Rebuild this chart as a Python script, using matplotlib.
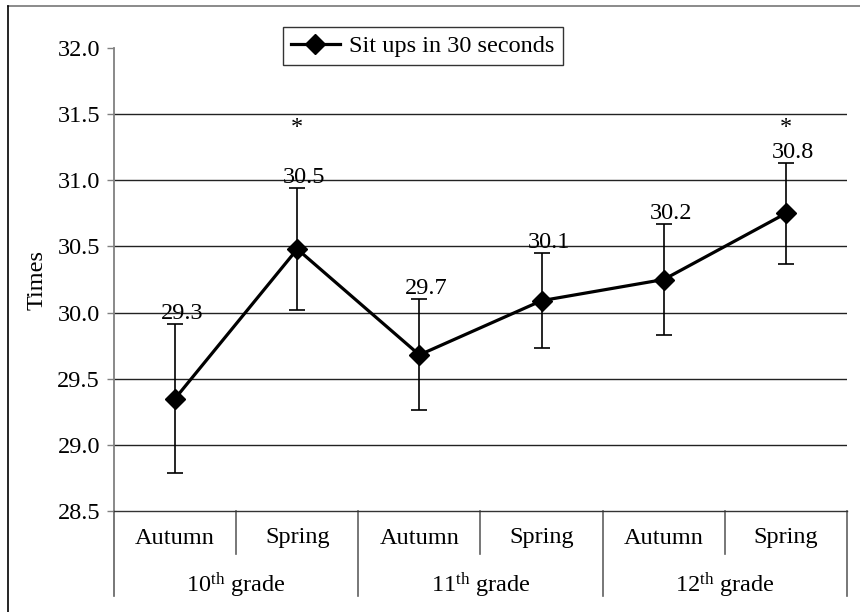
import matplotlib
matplotlib.use("Agg")
import matplotlib.pyplot as plt
import matplotlib.transforms as mtransforms
from matplotlib.lines import Line2D

plt.rcParams["font.family"] = ["Liberation Serif", "DejaVu Serif"]
plt.rcParams["mathtext.fontset"] = "custom"
plt.rcParams["mathtext.rm"] = "Liberation Serif"
plt.rcParams["mathtext.it"] = "Liberation Serif:italic"

# data
seasons = ["Autumn", "Spring", "Autumn", "Spring", "Autumn", "Spring"]
grades = [r"10$^{\mathrm{th}}$ grade", r"11$^{\mathrm{th}}$ grade", r"12$^{\mathrm{th}}$ grade"]
means = [29.35, 30.48, 29.68, 30.09, 30.25, 30.75]
sds = [0.56, 0.46, 0.42, 0.36, 0.42, 0.38]
value_labels = ["29.3", "30.5", "29.7", "30.1", "30.2", "30.8"]
stars = ["", "*", "", "", "", "*"]
star_level = 31.40
series_name = "Sit ups in 30 seconds"

FS = 17.5
W, H = 860, 612
fig = plt.figure(figsize=(W / 100, H / 100), dpi=100)

# outer frame (only top and left visible)
fig.add_artist(Line2D([8 / W, 1], [1 - 6 / H, 1 - 6 / H], color="#777777", lw=1.2, transform=fig.transFigure))
fig.add_artist(Line2D([8 / W, 8 / W], [0, 1 - 6 / H], color="black", lw=1.2, transform=fig.transFigure))

left, right, top, bottom = 114, 847, 48, 511
ax = fig.add_axes([left / W, 1 - bottom / H, (right - left) / W, (bottom - top) / H])

x = list(range(len(means)))
ax.errorbar(x, means, yerr=sds, fmt="none", ecolor="black", elinewidth=1.2,
            capsize=6, capthick=1.2, zorder=3)
line, = ax.plot(x, means, color="black", lw=2.3, marker="D", markersize=10,
                markerfacecolor="black", zorder=4)

for i in x:
    ax.annotate(value_labels[i], (i, means[i] + sds[i]), xytext=(5, 0),
                textcoords="offset points", ha="center", va="bottom", fontsize=FS)
    if stars[i]:
        ax.text(i, star_level, stars[i], ha="center", va="center", fontsize=FS)

ax.set_xlim(-0.5, len(means) - 0.5)
ax.set_ylim(28.5, 32.0)
ax.set_yticks([28.5 + 0.5 * k for k in range(8)])
ax.set_yticklabels(["%.1f" % (28.5 + 0.5 * k) for k in range(8)], fontsize=FS)
ax.tick_params(axis="y", length=5, width=1, color="#808080", pad=5)
ax.set_xticks([])
for yv in [29.0, 29.5, 30.0, 30.5, 31.0, 31.5]:
    ax.axhline(yv, color="#222222", lw=1.0, zorder=1)

for s in ["top", "right"]:
    ax.spines[s].set_visible(False)
ax.spines["left"].set_color("#808080")
ax.spines["left"].set_linewidth(1.3)
ax.spines["bottom"].set_color("#333333")
ax.spines["bottom"].set_linewidth(1.0)

ax.set_ylabel("Times", fontsize=FS, labelpad=7)

# two-level category axis
trans = mtransforms.blended_transform_factory(ax.transData, ax.transAxes)
h_ax = bottom - top
inner_end = -(554 - bottom) / h_ax
outer_end = -(596 - bottom) / h_ax
season_y = -(538 - bottom) / h_ax
grade_y = -(585 - bottom) / h_ax

for i, s in enumerate(seasons):
    ax.text(i, season_y, s, transform=trans, ha="center", va="center", fontsize=FS)
for k in range(len(seasons) + 1):
    xb = k - 0.5
    end = outer_end if k % 2 == 0 else inner_end
    ax.plot([xb, xb], [0, end], transform=trans, clip_on=False, color="#606060", lw=1.2)
for g, name in enumerate(grades):
    ax.text(2 * g + 0.5, grade_y, name, transform=trans, ha="center", va="center", fontsize=FS)

leg = fig.legend([line], [series_name], loc="upper left",
                 bbox_to_anchor=(283 / W, 1 - 27 / H), fontsize=FS, frameon=True,
                 fancybox=False, handlelength=2.0, handletextpad=0.4,
                 borderpad=0.33, borderaxespad=0)
leg.get_frame().set_edgecolor("black")
leg.get_frame().set_linewidth(1.0)

fig.savefig("out.png", dpi=100)
